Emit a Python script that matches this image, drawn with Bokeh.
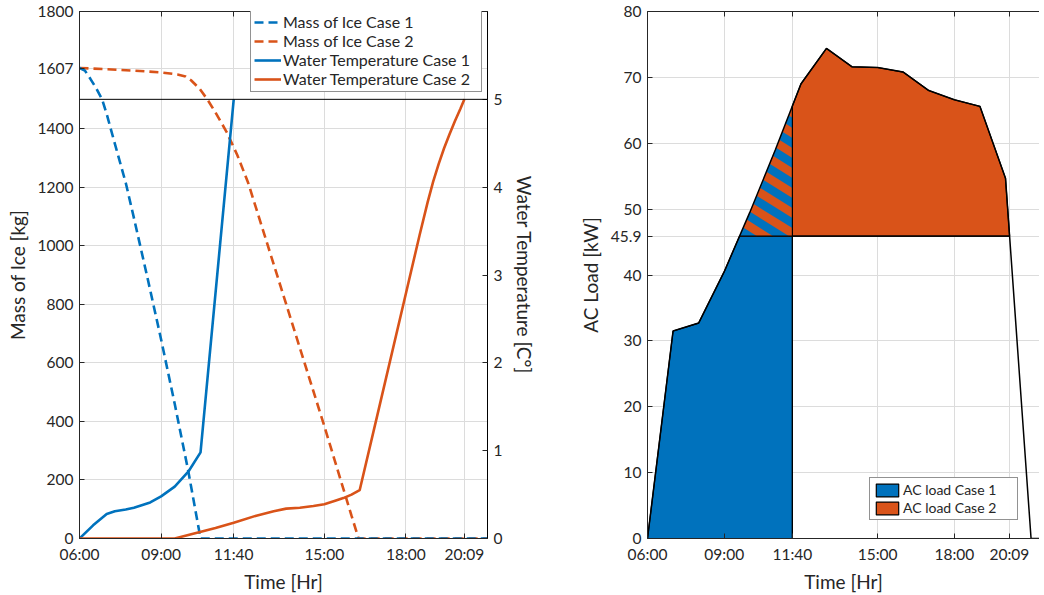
import numpy as np
from bokeh.plotting import figure
from bokeh.layouts import row
from bokeh.models import (Range1d, LinearAxis, FixedTicker, CustomJSTickFormatter,
                          Span, Legend, LegendItem)
from bokeh.embed import file_html
from bokeh.resources import INLINE

# ---------------- data ----------------
time_ticks = [6.0, 9.0, 11 + 40 / 60, 15.0, 18.0, 20 + 9 / 60]
time_labels = ["06:00", "09:00", "11:40", "15:00", "18:00", "20:09"]

mass_ticks = [0, 200, 400, 600, 800, 1000, 1200, 1400, 1607, 1800]
temp_ticks = [0, 1, 2, 3, 4, 5]
load_ticks = [0, 10, 20, 30, 40, 45.9, 50, 60, 70, 80]

mass1_t = [6.0, 6.2, 6.4, 6.6, 6.83, 7.0, 7.25, 7.7, 8.0, 8.5, 9.0, 9.5, 10.0, 10.45, 21.0]
mass1 = [1607, 1598, 1570, 1540, 1500, 1450, 1365, 1215, 1095, 890, 680, 460, 230, 0, 0]

mass2_t = [6, 7, 8, 9, 9.6, 9.9, 10.1, 10.4, 10.7, 11.0, 11.4, 11.8, 12.2, 13, 14, 15, 16, 16.26, 21]
mass2 = [1607, 1603, 1598, 1592, 1585, 1578, 1565, 1538, 1500, 1455, 1390, 1310, 1215, 978, 681, 384, 78, 0, 0]

temp1_t = [6, 6.5, 7.0, 7.3, 7.7, 8.0, 8.6, 9.0, 9.5, 10.0, 10.45, 11.67]
temp1 = [0, 0.15, 0.28, 0.31, 0.33, 0.35, 0.41, 0.48, 0.59, 0.76, 0.98, 5.0]

temp2_t = [6, 9.5, 10, 10.5, 11, 11.67, 12.5, 13.14, 13.6, 14.1, 14.6, 15.0, 15.4, 15.7,
           16.0, 16.3, 17, 18, 18.5, 18.8, 19.0, 19.2, 19.4, 19.6, 19.8, 20.0, 20.15]
temp2 = [0, 0, 0.04, 0.08, 0.12, 0.18, 0.26, 0.31, 0.34, 0.35, 0.37, 0.39, 0.43, 0.46,
         0.5, 0.55, 1.47, 2.79, 3.45, 3.83, 4.06, 4.26, 4.44, 4.60, 4.75, 4.89, 5.0]

load_t = [6, 7, 8, 9, 10, 11, 12, 13, 14, 15, 16, 17, 18, 19, 20, 21, 22]
load = [0, 31.5, 32.7, 40.5, 49.5, 59, 69, 74.4, 71.6, 71.5, 70.8, 68, 66.6, 65.6, 54.7, 0, 0]

cap_load = 45.9
switch_t = 11 + 40 / 60

BLUE = "#0072BD"
ORANGE = "#D95319"
TXT = "#262626"
FONT = "Lato"

time_fmt = CustomJSTickFormatter(args=dict(tk=time_ticks, lb=time_labels), code="""
let best = 0, bd = 1e9;
for (let i = 0; i < tk.length; i++) { const d = Math.abs(tk[i] - tick); if (d < bd) { bd = d; best = i; } }
return lb[best];
""")
num_fmt = CustomJSTickFormatter(code="return Number.isInteger(tick) ? tick.toString() : tick.toFixed(1);")
blank_fmt = CustomJSTickFormatter(code="return '';")


def style_axis(ax, label_std=8):
    ax.major_label_text_font = FONT
    ax.major_label_text_font_size = "15.5px"
    ax.major_label_text_color = TXT
    ax.axis_label_text_font = FONT
    ax.axis_label_text_font_size = "19px"
    ax.axis_label_text_font_style = "normal"
    ax.axis_label_text_color = TXT
    ax.axis_line_color = TXT
    ax.major_tick_line_color = TXT
    ax.major_tick_in = 5
    ax.major_tick_out = 0
    ax.minor_tick_line_color = None
    ax.major_label_standoff = 6
    ax.axis_label_standoff = label_std


def top_axis(p):
    ax = LinearAxis(ticker=FixedTicker(ticks=time_ticks), formatter=blank_fmt)
    style_axis(ax)
    ax.major_label_text_font_size = "0px"
    ax.major_label_standoff = 0
    p.add_layout(ax, "above")


FH = 527
# ---------------- left figure ----------------
p1 = figure(frame_width=408, frame_height=FH, min_border_left=79, min_border_right=88,
            min_border_top=11, min_border_bottom=48,
            x_range=Range1d(6, 21), y_range=Range1d(0, 1800),
            output_backend="svg", toolbar_location=None)
p1.extra_y_ranges = {"temp": Range1d(0, 6)}
p1.outline_line_color = TXT

p1.xaxis.ticker = FixedTicker(ticks=time_ticks)
p1.xaxis.formatter = time_fmt
p1.xaxis.axis_label = "Time [Hr]"
p1.yaxis.ticker = FixedTicker(ticks=mass_ticks)
p1.yaxis.axis_label = "Mass of Ice [kg]"
style_axis(p1.xaxis[0], 4)
style_axis(p1.yaxis[0], 6)

rax = LinearAxis(y_range_name="temp", ticker=FixedTicker(ticks=temp_ticks),
                 axis_label="Water Temperature [C°]")
style_axis(rax)
rax.axis_line_color = "black"
p1.add_layout(rax, "right")
top_axis(p1)

for g in (p1.xgrid[0], p1.ygrid[0]):
    g.grid_line_color = "#dcdcdc"
    g.grid_line_width = 1

p1.add_layout(Span(location=1500, dimension="width", line_color="black", line_width=1))

r_m2 = p1.line(mass2_t, mass2, line_color=ORANGE, line_width=2.6, line_dash="9 5")
r_m1 = p1.line(mass1_t, mass1, line_color=BLUE, line_width=2.6, line_dash="9 5")
r_t1 = p1.line(temp1_t, temp1, line_color=BLUE, line_width=2.6, y_range_name="temp")
r_t2 = p1.line(temp2_t, temp2, line_color=ORANGE, line_width=2.6, y_range_name="temp")

leg1 = Legend(items=[LegendItem(label="Mass of Ice Case 1", renderers=[r_m1]),
                     LegendItem(label="Mass of Ice Case 2", renderers=[r_m2]),
                     LegendItem(label="Water Temperature Case 1", renderers=[r_t1]),
                     LegendItem(label="Water Temperature Case 2", renderers=[r_t2])],
              location=(171, FH - 3 - 78), margin=0)
leg1.label_text_font = FONT
leg1.label_text_font_size = "16px"
leg1.label_text_color = TXT
leg1.label_height = 18
leg1.glyph_height = 18
leg1.glyph_width = 27
leg1.label_width = 195
leg1.label_standoff = 2
leg1.spacing = 0
leg1.padding = 3
leg1.border_line_color = TXT
leg1.border_line_width = 1
leg1.background_fill_alpha = 1
p1.add_layout(leg1)

# ---------------- right figure ----------------
X0, X1 = 6, 21.33
FW2 = 392
lt = np.array(load_t, dtype=float)
ll = np.array(load, dtype=float)
i1 = next(i for i in range(len(ll) - 1) if ll[i] < cap_load <= ll[i + 1])
t1 = lt[i1] + (cap_load - ll[i1]) / (ll[i1 + 1] - ll[i1]) * (lt[i1 + 1] - lt[i1])
i2 = next(i for i in range(len(ll) - 1) if lt[i] >= switch_t and ll[i] >= cap_load > ll[i + 1])
t2 = lt[i2] + (ll[i2] - cap_load) / (ll[i2] - ll[i2 + 1]) * (lt[i2 + 1] - lt[i2])
ls = float(np.interp(switch_t, lt, ll))

m_a = lt < t1
blue_x = list(lt[m_a]) + [t1, switch_t, switch_t]
blue_y = list(ll[m_a]) + [cap_load, cap_load, 0]
m_h = (lt > t1) & (lt < switch_t)
hat_x = [t1] + list(lt[m_h]) + [switch_t, switch_t]
hat_y = [cap_load] + list(ll[m_h]) + [ls, cap_load]
m_o = (lt > switch_t) & (lt < t2)
or_x = [switch_t, switch_t] + list(lt[m_o]) + [t2]
or_y = [cap_load, ls] + list(ll[m_o]) + [cap_load]

# diagonal stripes (blue on orange) clipped to the hatched region, built in pixel space
sx = FW2 / (X1 - X0)
sy = FH / 80.0


def clip_half(poly, nx, ny, c, keep_ge):
    out = []
    n = len(poly)
    for k in range(n):
        P, Q = poly[k], poly[(k + 1) % n]
        sp = nx * P[0] + ny * P[1] - c
        sq = nx * Q[0] + ny * Q[1] - c
        ip = sp >= 0 if keep_ge else sp <= 0
        iq = sq >= 0 if keep_ge else sq <= 0
        if ip:
            out.append(P)
        if ip != iq:
            t = sp / (sp - sq)
            out.append((P[0] + t * (Q[0] - P[0]), P[1] + t * (Q[1] - P[1])))
    return out


theta = np.radians(32)
nx, ny = np.sin(theta), np.cos(theta)
period = 17.0
poly_px = [((x - X0) * sx, y * sy) for x, y in zip(hat_x, hat_y)]
svals = [nx * a + ny * b for a, b in poly_px]
stripe_xs, stripe_ys = [], []
for k in range(int(np.floor(min(svals) / period)) - 1, int(np.ceil(max(svals) / period)) + 1):
    pg = clip_half(poly_px, nx, ny, k * period, True)
    if pg:
        pg = clip_half(pg, nx, ny, k * period + period / 2, False)
    if len(pg) >= 3:
        stripe_xs.append([a / sx + X0 for a, b in pg])
        stripe_ys.append([b / sy for a, b in pg])

p2 = figure(frame_width=FW2, frame_height=FH, min_border_left=69, min_border_right=0,
            min_border_top=11, min_border_bottom=48,
            x_range=Range1d(X0, X1), y_range=Range1d(0, 80),
            output_backend="svg", toolbar_location=None)
p2.outline_line_color = None
p2.xaxis.ticker = FixedTicker(ticks=time_ticks)
p2.xaxis.formatter = time_fmt
p2.xaxis.axis_label = "Time [Hr]"
p2.yaxis.ticker = FixedTicker(ticks=load_ticks)
p2.yaxis.formatter = num_fmt
p2.yaxis.axis_label = "AC Load [kW]"
style_axis(p2.xaxis[0], 4)
style_axis(p2.yaxis[0], 6)
top_axis(p2)
for g in (p2.xgrid[0], p2.ygrid[0]):
    g.grid_line_color = "#dcdcdc"
    g.grid_line_width = 1

r_b = p2.patch(blue_x, blue_y, fill_color=BLUE, line_color="black", line_width=1.2)
r_o = p2.patch(or_x, or_y, fill_color=ORANGE, line_color="black", line_width=1.2)
p2.patch(hat_x, hat_y, fill_color=ORANGE, line_color=None)
p2.patches(stripe_xs, stripe_ys, fill_color=BLUE, line_color=None)
p2.line(load_t, load, line_color="black", line_width=1.5)
p2.line([t1, t2], [cap_load, cap_load], line_color="black", line_width=1.2)
p2.line([switch_t, switch_t], [0, ls], line_color="black", line_width=1.2)

leg2 = Legend(items=[LegendItem(label="AC load Case 1", renderers=[r_b]),
                     LegendItem(label="AC load Case 2", renderers=[r_o])],
              location=(222, 18), margin=0)
leg2.label_text_font = FONT
leg2.label_text_font_size = "14px"
leg2.label_text_color = TXT
leg2.label_height = 17
leg2.glyph_height = 16
leg2.glyph_width = 28
leg2.label_width = 111
leg2.label_standoff = 2
leg2.spacing = 1
leg2.padding = 3
leg2.border_line_color = TXT
leg2.border_line_width = 1
p2.add_layout(leg2)

layout = row(p1, p2)
open("out.html", "w").write(file_html(layout, INLINE))
